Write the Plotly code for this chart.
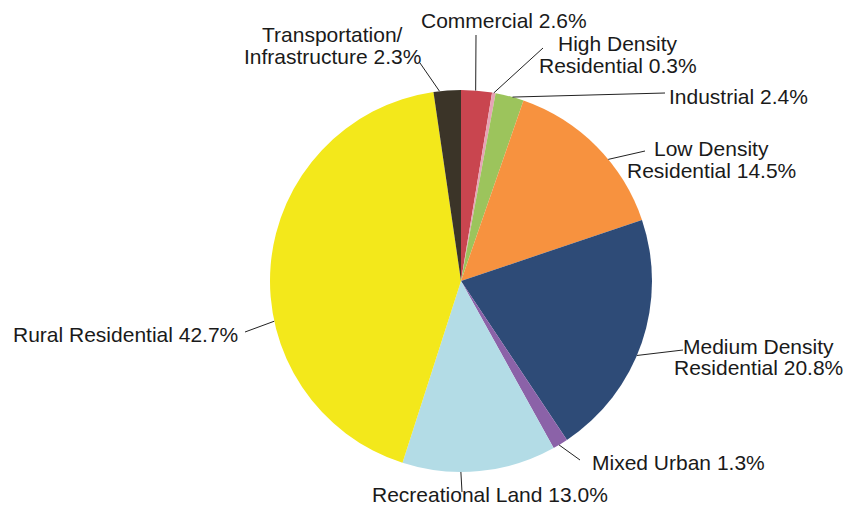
import math
import plotly.graph_objects as go

# ---- data ----
categories = ["Commercial", "High Density<br>Residential", "Industrial",
              "Low Density<br>Residential", "Medium Density<br>Residential",
              "Mixed Urban", "Recreational Land", "Rural Residential",
              "Transportation/<br>Infrastructure"]
values = [2.6, 0.3, 2.4, 14.5, 20.8, 1.3, 13.0, 42.7, 2.3]
colors = ["#c9454f", "#e6a3b5", "#9cc45c", "#f7923f", "#2e4b77",
          "#8b62a8", "#b3dce6", "#f3e81b", "#3b3428"]

# ---- layout helpers (pixel positions of labels / leader lines) ----
W, H = 850, 508
CX, CY, R = 461, 281, 191
label_x = [504, 618, 738, 711, 758, 678, 490, 125, 332]
label_y = [20, 44, 96, 149, 346, 462, 494, 334, 35]
line_gap = 21
leader_frac = [0.47, 0.5, 0.6, 0.6, 0.555, 0.6, 0.62, 0.39, 0.22]
leader_tail = [(476, 35), (543, 48), (665, 93), (645, 151), (683, 350),
               (580, 460), (462, 492), (245, 332), (420, 63)]

def px(x):
    return x / W

def py(y):
    return 1 - y / H

fig = go.Figure(go.Pie(
    labels=[c.replace("<br>", " ") for c in categories],
    values=values,
    marker=dict(colors=colors, line=dict(width=0)),
    sort=False, direction="clockwise", rotation=0,
    textinfo="none", hoverinfo="label+percent", showlegend=False,
    domain=dict(x=[px(CX - R), px(CX + R)], y=[py(CY + R), py(CY - R)]),
))

total = sum(values)
cum = 0.0
annotations = []
shapes = []
font = dict(family="Liberation Sans, Arial, sans-serif", size=21, color="#1a1a1a")
for i, (cat, v) in enumerate(zip(categories, values)):
    start = cum / total * 360
    span = v / total * 360
    cum += v
    ang = math.radians(start + leader_frac[i] * span)
    hx = CX + R * math.sin(ang)
    hy = CY - R * math.cos(ang)
    tx, ty = leader_tail[i]
    shapes.append(dict(type="line", xref="paper", yref="paper",
                       x0=px(hx), y0=py(hy), x1=px(tx), y1=py(ty),
                       line=dict(color="#222222", width=1)))
    lines = (cat + " " + f"{v:.1f}%").split("<br>")
    for j, ln in enumerate(lines):
        annotations.append(dict(text=ln, xref="paper", yref="paper",
                                x=px(label_x[i]), y=py(label_y[i] + j * line_gap),
                                xanchor="center", yanchor="middle",
                                showarrow=False, font=font))

fig.update_layout(width=W, height=H, margin=dict(l=0, r=0, t=0, b=0),
                  paper_bgcolor="white", plot_bgcolor="white",
                  annotations=annotations, shapes=shapes)
fig.write_html("out.html", config={"displayModeBar": False},
               post_script="document.body.style.margin='0';document.body.style.overflow='hidden';")
